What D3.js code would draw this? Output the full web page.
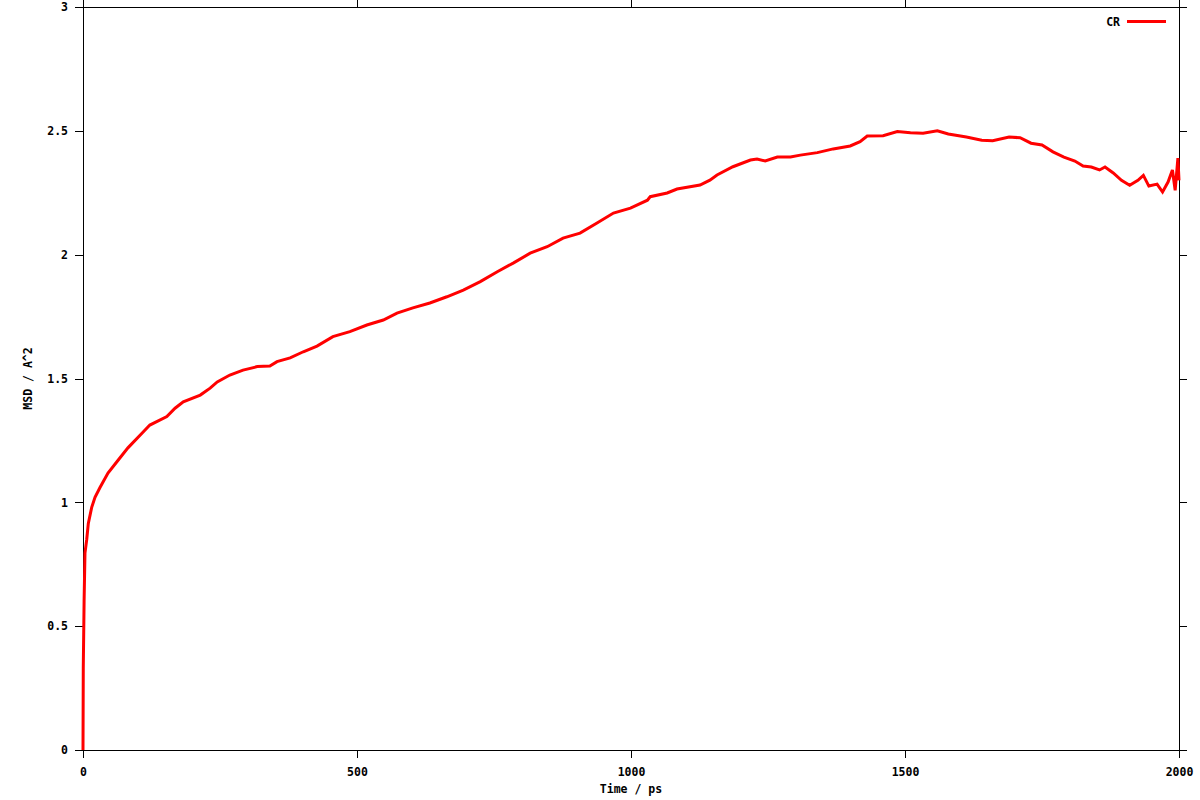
<!DOCTYPE html>
<html>
<head>
<meta charset="utf-8">
<script src="https://cdn.jsdelivr.net/npm/d3@7"></script>
<style>
  body { margin: 0; background: #fff; overflow: hidden; }
  svg { display: block; }
  text { font-family: "DejaVu Sans Mono", "Liberation Mono", monospace; font-weight: bold; font-size: 11.5px; fill: #000; }
</style>
<script>
// MSD curve (time in ps, value in A^2)
const timePs = [0, 0.5, 2, 3.6, 6.8, 9.7, 15.9, 21.9, 31, 45.6, 64, 82, 108, 122, 153, 168, 183, 214, 232, 245, 268, 292, 318, 341, 354, 378, 402, 427, 456, 487, 518, 548, 573, 602, 633, 664, 694, 725, 756, 785, 816, 847, 876, 907, 938, 968, 999, 1030, 1035, 1066, 1084, 1126, 1144, 1157, 1186, 1218, 1230, 1245, 1267, 1291, 1309, 1340, 1369, 1400, 1418, 1431, 1460, 1486, 1510, 1533, 1559, 1579, 1612, 1640, 1660, 1690, 1710, 1730, 1750, 1770, 1790, 1810, 1825, 1840, 1855, 1865, 1880, 1895, 1910, 1925, 1935, 1945, 1960, 1970, 1980, 1988, 1993, 1998, 2000];
const msd = [0, 0.33, 0.6, 0.795, 0.85, 0.915, 0.98, 1.02, 1.06, 1.118, 1.17, 1.22, 1.28, 1.312, 1.346, 1.38, 1.406, 1.433, 1.461, 1.486, 1.514, 1.534, 1.548, 1.55, 1.568, 1.583, 1.608, 1.631, 1.669, 1.689, 1.716, 1.736, 1.764, 1.785, 1.805, 1.83, 1.857, 1.891, 1.931, 1.966, 2.006, 2.032, 2.067, 2.087, 2.128, 2.168, 2.188, 2.22, 2.234, 2.249, 2.265, 2.281, 2.301, 2.322, 2.355, 2.382, 2.386, 2.378, 2.394, 2.394, 2.402, 2.412, 2.427, 2.439, 2.456, 2.479, 2.48, 2.497, 2.492, 2.49, 2.5, 2.487, 2.475, 2.462, 2.46, 2.475, 2.472, 2.45, 2.443, 2.415, 2.394, 2.378, 2.358, 2.354, 2.342, 2.354, 2.33, 2.30, 2.28, 2.30, 2.32, 2.277, 2.285, 2.253, 2.293, 2.342, 2.26, 2.39, 2.30];

const xTicks = [0, 500, 1000, 1500, 2000];
const yTicks = [0, 0.5, 1, 1.5, 2, 2.5, 3];
const seriesName = 'CR';

const render = () => {
  const svg = d3.select('svg');
  const margin = {top: 7, right: 21, bottom: 50, left: 83};
  const width = +svg.attr('width'), height = +svg.attr('height');
  const innerWidth = width - margin.left - margin.right;
  const innerHeight = height - margin.top - margin.bottom;

  const x = d3.scaleLinear().domain([0, 2000]).range([0, innerWidth]);
  const y = d3.scaleLinear().domain([0, 3]).range([innerHeight, 0]);

  const g = svg.append('g').attr('transform', `translate(${margin.left},${margin.top})`);

  // axes on all four sides, ticks pointing outwards
  const fmt = d => String(d);
  g.append('g').attr('transform', `translate(0,${innerHeight})`)
    .call(d3.axisBottom(x).tickValues(xTicks).tickFormat(fmt).tickSize(8).tickPadding(10).tickSizeOuter(0));
  g.append('g').attr('class', 'mirror')
    .call(d3.axisTop(x).tickValues(xTicks).tickFormat('').tickSize(8).tickSizeOuter(0));
  g.append('g')
    .call(d3.axisLeft(y).tickValues(yTicks).tickFormat(fmt).tickSize(8).tickPadding(7).tickSizeOuter(0));
  g.append('g').attr('class', 'mirror').attr('transform', `translate(${innerWidth},0)`)
    .call(d3.axisRight(y).tickValues(yTicks).tickFormat('').tickSize(8).tickSizeOuter(0));

  g.selectAll('.domain').remove();
  g.selectAll('.mirror text').remove();   // mirrored axes only carry tick marks
  g.selectAll('.tick line').attr('stroke', '#000').attr('shape-rendering', 'crispEdges');
  g.selectAll('.tick text').attr('font-family', null).attr('font-size', null);

  // frame
  g.append('rect')
    .attr('x', 0).attr('y', 0)
    .attr('width', innerWidth).attr('height', innerHeight)
    .attr('fill', 'none').attr('stroke', '#000')
    .attr('shape-rendering', 'crispEdges');

  // data line
  const pts = timePs.map((t, i) => [t, msd[i]]);
  g.append('path')
    .datum(pts)
    .attr('fill', 'none')
    .attr('stroke', '#ff0000')
    .attr('stroke-width', 3)
    .attr('stroke-linejoin', 'miter')
    .attr('d', d3.line().x(d => x(d[0])).y(d => y(d[1])));

  // legend
  const leg = g.append('g').attr('transform', `translate(${innerWidth - 52},14.5)`);
  leg.append('text').attr('x', -7).attr('dy', '0.35em').attr('text-anchor', 'end').text(seriesName);
  leg.append('line').attr('x1', 0).attr('x2', 39).attr('stroke', '#ff0000').attr('stroke-width', 3);

  // axis titles
  svg.append('text')
    .attr('x', margin.left + innerWidth / 2).attr('y', 793)
    .attr('text-anchor', 'middle').text('Time / ps');
  svg.append('text')
    .attr('transform', `translate(32,${margin.top + innerHeight / 2}) rotate(-90)`)
    .attr('text-anchor', 'middle').text('MSD / A^2');
};

document.addEventListener('DOMContentLoaded', render);
</script>
</head>
<body>
<svg width="1200" height="800"></svg>
</body>
</html>
